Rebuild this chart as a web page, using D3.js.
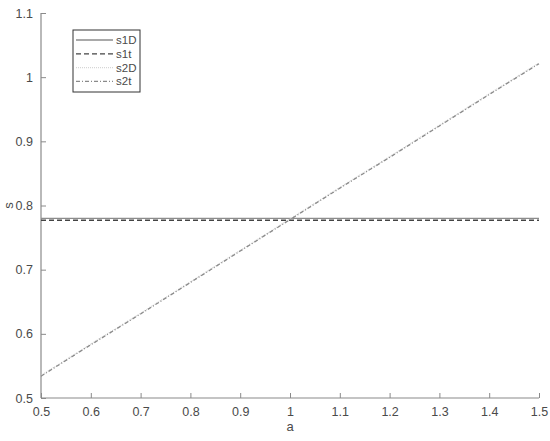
<!DOCTYPE html>
<html>
<head>
<meta charset="utf-8">
<script src="https://cdn.jsdelivr.net/npm/d3@7"></script>
<style>
body { margin: 0; background: #fff; }
text { font-family: "Liberation Sans", Arial, sans-serif; }
</style>
</head>
<body>
<div id="frame"></div>
<script>
// values
var aValues = [0.5, 0.6, 0.7, 0.8, 0.9, 1.0, 1.1, 1.2, 1.3, 1.4, 1.5];
var s1D = [0.780, 0.780, 0.780, 0.780, 0.780, 0.780, 0.780, 0.780, 0.780, 0.780, 0.780];
var s1t = [0.777, 0.777, 0.777, 0.777, 0.777, 0.777, 0.777, 0.777, 0.777, 0.777, 0.777];
var s2D = [0.535, 0.584, 0.632, 0.681, 0.730, 0.779, 0.828, 0.876, 0.925, 0.974, 1.022];
var s2t = [0.534, 0.583, 0.631, 0.680, 0.729, 0.778, 0.827, 0.875, 0.924, 0.973, 1.021];
var seriesNames = ["s1D", "s1t", "s2D", "s2t"];
var xTicks = [0.5, 0.6, 0.7, 0.8, 0.9, 1, 1.1, 1.2, 1.3, 1.4, 1.5];
var yTicks = [0.5, 0.6, 0.7, 0.8, 0.9, 1, 1.1];

var width = 550, height = 441;
var plotLeft = 41, plotRight = 539, plotTop = 13, plotBottom = 398;

var svg = d3.select('#frame').append('svg').attr('width', width).attr('height', height);

var x = d3.scaleLinear().domain([0.5, 1.5]).range([plotLeft, plotRight]);
var y = d3.scaleLinear().domain([0.5, 1.1]).range([plotBottom, plotTop]);

var axisColour = '#8a8a8a';
var textColour = '#4a4a4a';
var fmt = function(d) { return String(+d.toFixed(1)); };

// axes with inward ticks, matlab style
var xAxis = svg.append('g')
    .attr('transform', 'translate(0,' + plotBottom + ')')
    .call(d3.axisBottom(x).tickValues(xTicks).tickSize(-5).tickPadding(9).tickFormat(fmt));
var yAxis = svg.append('g')
    .attr('transform', 'translate(' + plotLeft + ',0)')
    .call(d3.axisLeft(y).tickValues(yTicks).tickSize(-5).tickPadding(8).tickFormat(fmt));

[xAxis, yAxis].forEach(function(g) {
  g.select('.domain').attr('stroke', axisColour).attr('stroke-width', 1.2);
  g.selectAll('.tick line').attr('stroke', axisColour);
  g.selectAll('.tick text').attr('fill', textColour).attr('font-size', '12.5px')
    .attr('font-family', '"Liberation Sans", Arial, sans-serif');
});
xAxis.select('.domain').attr('d', 'M' + plotLeft + ',0H' + plotRight);
yAxis.select('.domain').attr('d', 'M0,' + plotBottom + 'V' + plotTop);

svg.append('text')
  .attr('x', (plotLeft + plotRight) / 2).attr('y', 431)
  .attr('text-anchor', 'middle').attr('fill', textColour).attr('font-size', '13px')
  .text('a');
svg.append('text')
  .attr('transform', 'translate(13,' + ((plotTop + plotBottom) / 2) + ') rotate(-90)')
  .attr('text-anchor', 'middle').attr('fill', textColour).attr('font-size', '13px')
  .text('s');

var styles = {
  s1D: { colour: '#8c8c8c', dash: null, width: 1.3 },
  s1t: { colour: '#444444', dash: '5,3', width: 1.3 },
  s2D: { colour: '#d6d6d6', dash: '1,1', width: 1.3 },
  s2t: { colour: '#8a8a8a', dash: '4,2,1,2', width: 1.3 }
};
var allSeries = { s1D: s1D, s1t: s1t, s2D: s2D, s2t: s2t };

var line = d3.line()
  .x(function(d) { return x(d[0]); })
  .y(function(d) { return y(d[1]); });

seriesNames.forEach(function(name) {
  var pts = aValues.map(function(a, i) { return [a, allSeries[name][i]]; });
  svg.append('path')
    .datum(pts)
    .attr('d', line)
    .attr('fill', 'none')
    .attr('stroke', styles[name].colour)
    .attr('stroke-width', styles[name].width)
    .attr('stroke-dasharray', styles[name].dash);
});

// legend
var legend = svg.append('g').attr('transform', 'translate(73,30)');
legend.append('rect')
  .attr('width', 67).attr('height', 62)
  .attr('fill', '#fff').attr('stroke', '#333').attr('stroke-width', 1);
seriesNames.forEach(function(name, i) {
  var ly = 10 + i * 13.8;
  legend.append('line')
    .attr('x1', 3).attr('x2', 40).attr('y1', ly).attr('y2', ly)
    .attr('stroke', styles[name].colour)
    .attr('stroke-width', styles[name].width)
    .attr('stroke-dasharray', styles[name].dash);
  legend.append('text')
    .attr('x', 43).attr('y', ly + 4)
    .attr('fill', textColour).attr('font-size', '11.5px')
    .text(name);
});
</script>
</body>
</html>
